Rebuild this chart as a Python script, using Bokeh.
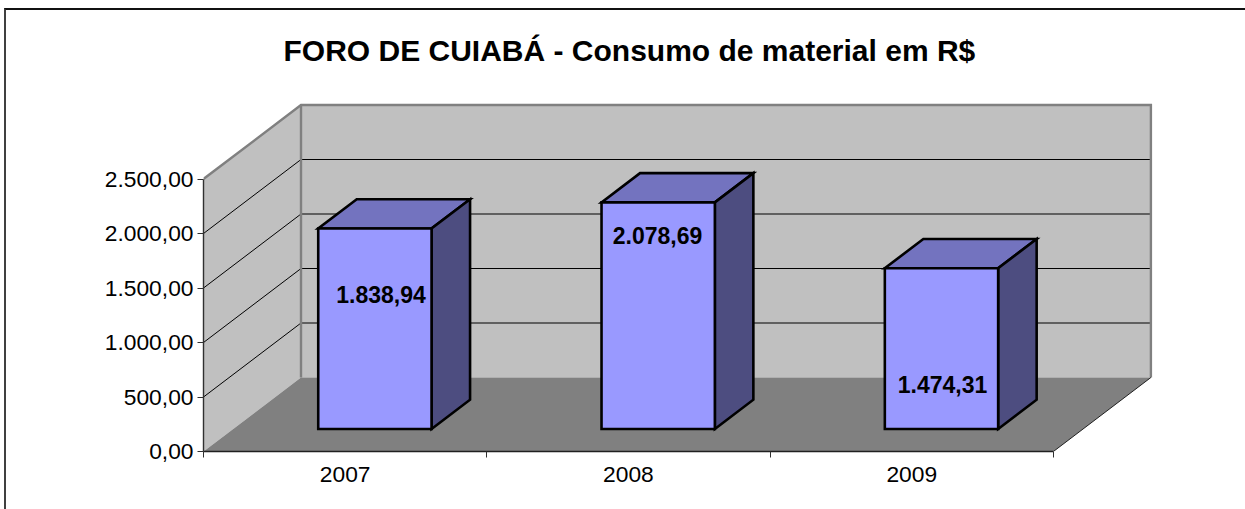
from bokeh.plotting import figure
from bokeh.embed import file_html
from bokeh.resources import INLINE
from bokeh.models import ColumnDataSource, FixedTicker, Range1d, LinearAxis
from bokeh.core.properties import value

# ---- data ----
title_text = "FORO DE CUIABÁ - Consumo de material em R$"
categories = ["2007", "2008", "2009"]
consumo = [1838.94, 2078.69, 1474.31]
value_labels = ["1.838,94", "2.078,69", "1.474,31"]
y_ticks = [0, 500, 1000, 1500, 2000, 2500]
y_tick_labels = ["0,00", "500,00", "1.000,00", "1.500,00", "2.000,00", "2.500,00"]

# ---- layout ----
W, H = 1245, 509
FX0, FX1, FY0, FY1 = 203, 1153, 451, 96     # plot frame in page pixels
CAT_PX = 283.3
VAL_PX = 272.5 / 2500
DEPTH_PX_X, DEPTH_PX_Y = 97.5, 74.0
DX = DEPTH_PX_X / CAT_PX
DY = DEPTH_PX_Y / VAL_PX
BAR_HALF = 0.2
D0, D1 = 0.305, 0.70
FONT = "Liberation Sans"
LABEL_PX = [(380.5, 294), (657, 235), (942, 384)]
TICK_SIZE = "22.8px"

def pj(cat, val, depth):
    return cat + depth * DX, val + depth * DY

def poly(points):
    pts = [pj(*q) for q in points]
    return [a for a, _ in pts], [b for _, b in pts]

n = len(categories)
ymax = max(y_ticks)

# chart border: top and left only, as in the source crop
border_css = (":host::after{content:'';position:absolute;left:4px;top:8px;right:0;bottom:0;"
              "border-left:2px solid #404040;border-top:2px solid #111111;pointer-events:none;}")

p = figure(width=W, height=H, output_backend="svg", toolbar_location=None,
           x_range=Range1d(0, (FX1 - FX0) / CAT_PX), y_range=Range1d(0, (FY0 - FY1) / VAL_PX),
           min_border_left=FX0, min_border_right=W - FX1, min_border_top=FY1, min_border_bottom=H - FY0,
           x_axis_type=None, y_axis_type=None, margin=(0, 0, 0, 0), stylesheets=[border_css])
p.outline_line_color = None
p.background_fill_color = "white"
p.border_fill_color = "white"
p.grid.visible = False

# title
p.title.text = title_text
p.title.text_font = FONT
p.title.text_font_style = "bold"
p.title.text_font_size = "30px"
p.title.text_color = "black"
p.title.align = "left"
p.title.offset = 80
p.title.standoff = 60

# walls and floor
WALL = "#C0C0C0"; FLOOR = "#808080"; EDGE = "#808080"
sx, sy = poly([(0, ymax, 0), (0, ymax, 1), (0, 0, 1), (0, 0, 0)])
p.patch(sx, sy, fill_color=WALL, line_color=None)
bx, by = poly([(0, ymax, 1), (n, ymax, 1), (n, 0, 1), (0, 0, 1)])
p.patch(bx, by, fill_color=WALL, line_color=None)
fx, fy = poly([(0, 0, 0), (0, 0, 1), (n, 0, 1), (n, 0, 0)])
p.patch(fx, fy, fill_color=FLOOR, line_color=None)

# gridlines
gxs, gys = [], []
for t in y_ticks[1:-1]:
    a, b = poly([(0, t, 0), (0, t, 1), (n, t, 1)])
    gxs.append(a); gys.append(b)
p.multi_line(gxs, gys, line_color="black", line_width=1)
exs, eys = [], []
for pts in ([(0, ymax, 0), (0, ymax, 1), (n, ymax, 1), (n, 0, 1)], [(0, ymax, 1), (0, 0, 1)]):
    a, b = poly(pts)
    exs.append(a); eys.append(b)
p.multi_line(exs, eys, line_color=EDGE, line_width=2.4, line_join="miter")
a, b = poly([(n, 0, 0), (n, 0, 1)])
p.line(a, b, line_color="#202020", line_width=1)

# bars
fr_x, fr_y, tp_x, tp_y, sd_x, sd_y = [], [], [], [], [], []
for i, v in enumerate(consumo):
    l, r = i + 0.5 - BAR_HALF, i + 0.5 + BAR_HALF
    a, b = poly([(l, 0, D0), (r, 0, D0), (r, v, D0), (l, v, D0)]); fr_x.append(a); fr_y.append(b)
    a, b = poly([(l, v, D0), (r, v, D0), (r, v, D1), (l, v, D1)]); tp_x.append(a); tp_y.append(b)
    a, b = poly([(r, 0, D0), (r, 0, D1), (r, v, D1), (r, v, D0)]); sd_x.append(a); sd_y.append(b)
for xs, ys, col in ((tp_x, tp_y, "#7373BF"), (sd_x, sd_y, "#4D4D80"), (fr_x, fr_y, "#9999FF")):
    p.patches(xs, ys, fill_color=col, line_color="black", line_width=2.6, line_join="miter")

# value labels
src = ColumnDataSource(dict(
    x=[(a - FX0) / CAT_PX for a, _ in LABEL_PX],
    y=[(FY0 - b) / VAL_PX for _, b in LABEL_PX],
    t=value_labels))
p.text("x", "y", text="t", source=src, text_font=value(FONT), text_font_style="bold",
       text_font_size="23px", text_color="black", text_align="center", text_baseline="middle")

# axes
ya = LinearAxis(ticker=FixedTicker(ticks=y_ticks), bounds=(0, ymax))
ya.major_label_overrides = dict(zip(y_ticks, y_tick_labels))
ya.major_label_text_font = FONT
ya.major_label_text_font_size = TICK_SIZE
ya.major_label_text_color = "black"
ya.major_tick_in = 0
ya.major_tick_out = 6
ya.minor_tick_line_color = None
ya.major_label_standoff = 4
ya.axis_line_color = "#303030"
ya.major_tick_line_color = "#303030"
ya.axis_line_width = 1.4
p.add_layout(ya, "left")

centers = [i + 0.5 for i in range(n)]
xa = LinearAxis(ticker=FixedTicker(ticks=centers, minor_ticks=list(range(n + 1))), bounds=(0, n))
xa.major_label_overrides = dict(zip(centers, categories))
xa.major_label_text_font = FONT
xa.major_label_text_font_size = TICK_SIZE
xa.major_label_text_color = "black"
xa.major_tick_line_color = None
xa.major_tick_in = 0
xa.major_tick_out = 0
xa.minor_tick_in = 0
xa.minor_tick_out = 6
xa.minor_tick_line_color = "#303030"
xa.major_label_standoff = 9
xa.axis_line_color = "#202020"
xa.axis_line_width = 1.4
p.add_layout(xa, "below")

open("out.html", "w").write(file_html(p, INLINE))
